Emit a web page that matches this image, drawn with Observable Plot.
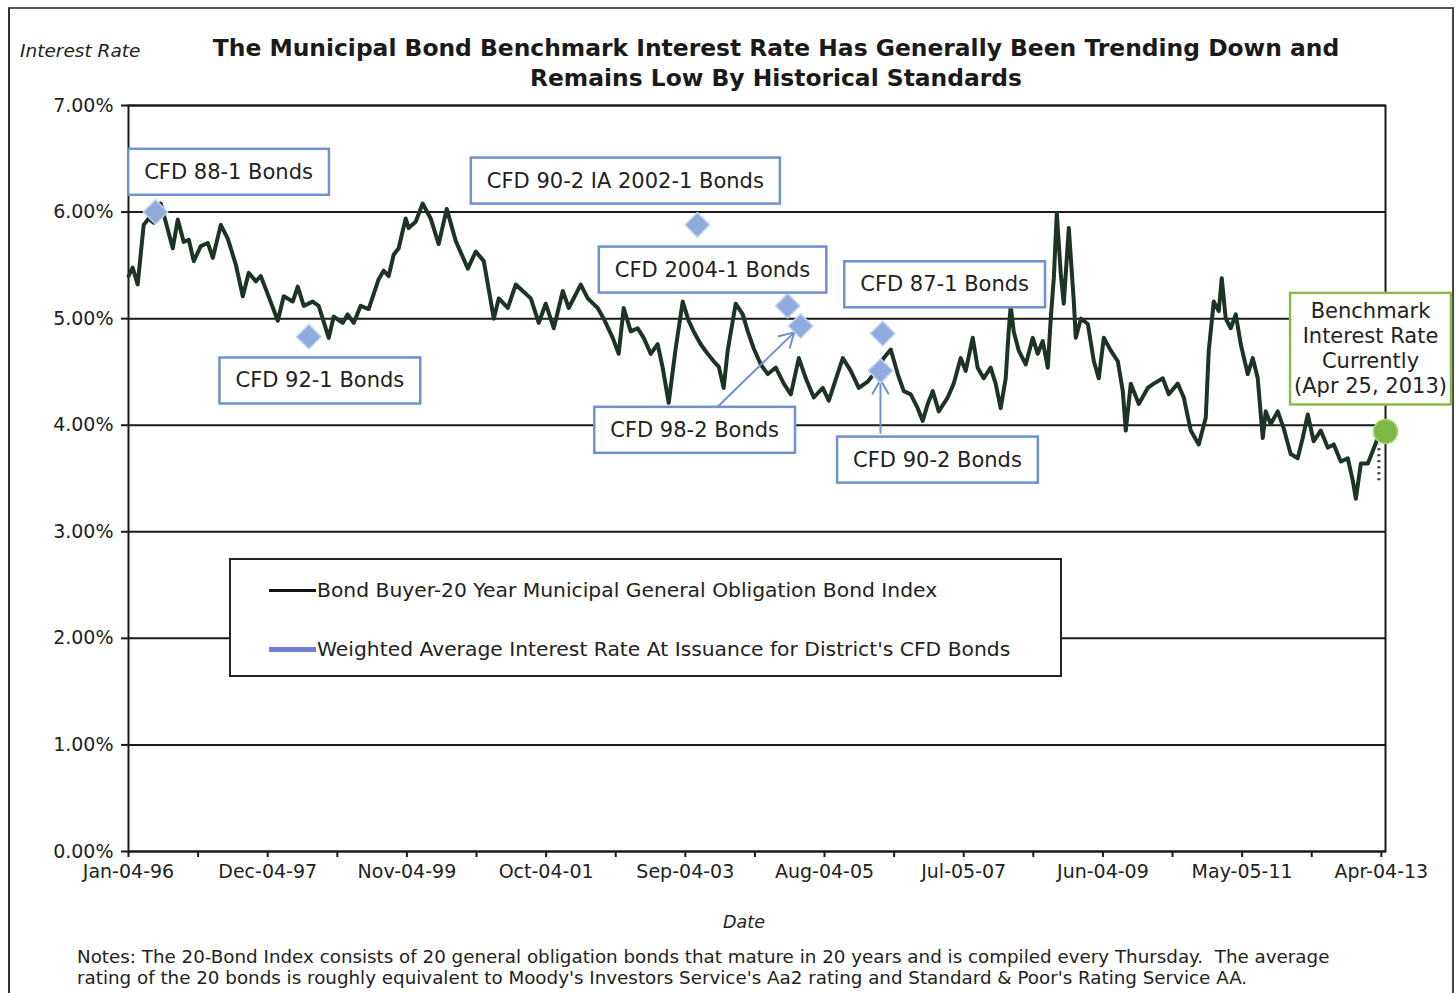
<!DOCTYPE html>
<html><head><meta charset="utf-8">
<script src="https://cdn.jsdelivr.net/npm/d3@7"></script>
<script src="https://cdn.jsdelivr.net/npm/@observablehq/plot@0.6"></script>
<style>
body{margin:0;background:#fff;font-family:"DejaVu Sans",sans-serif;color:#222;}
#page{position:relative;width:1456px;height:993px;overflow:hidden;background:#fff;}
#border{position:absolute;left:8px;top:7px;width:1442px;height:1000px;border-left:2px solid #333;border-top:2px solid #555;border-right:2px solid #444;}
#ylab{position:absolute;left:20px;top:40px;font-size:18.5px;font-style:italic;white-space:nowrap;}
#title{position:absolute;left:176px;width:1200px;top:33px;text-align:center;font-weight:bold;font-size:23.4px;line-height:30px;white-space:nowrap;color:#1a1a1a;}
#chart{position:absolute;left:0;top:95px;}
#legend{position:absolute;left:229px;top:558px;width:829px;height:115px;border:2px solid #222;background:#fff;}
.lg{position:absolute;left:38px;display:flex;align-items:center;font-size:20.3px;white-space:nowrap;}
.sw{width:47px;margin-right:1px;}
#notes{position:absolute;left:77px;top:946px;font-size:18.3px;line-height:21px;white-space:nowrap;}
</style></head><body>
<div id="page">
<div id="border"></div>
<div id="ylab">Interest Rate</div>
<div id="title">The Municipal Bond Benchmark Interest Rate Has Generally Been Trending Down and<br>Remains Low By Historical Standards</div>
<div id="chart"></div>
<div id="legend">
 <div class="lg" style="top:18px"><div class="sw" style="height:3px;background:#111"></div><span id="lg1"></span></div>
 <div class="lg" style="top:77px"><div class="sw" style="height:5px;background:#6f80d4"></div><span id="lg2"></span></div>
</div>
<div id="notes">Notes: The 20-Bond Index consists of 20 general obligation bonds that mature in 20 years and is compiled every Thursday.&nbsp; The average<br>rating of the 20 bonds is roughly equivalent to Moody's Investors Service's Aa2 rating and Standard &amp; Poor's Rating Service AA.</div>
</div>
<script>
// ---- data ----
const seriesNames = ["Bond Buyer-20 Year Municipal General Obligation Bond Index", "Weighted Average Interest Rate At Issuance for District's CFD Bonds"];
const indexYears = [1996.01,1996.065,1996.134,1996.217,1996.285,1996.354,1996.451,1996.492,1996.616,1996.685,
1996.767,1996.836,1996.905,1997.001,1997.098,1997.167,1997.277,1997.373,1997.483,1997.580,
1997.662,1997.759,1997.827,1997.924,1998.062,1998.144,1998.268,1998.337,1998.420,1998.543,
1998.626,1998.764,1998.833,1998.956,1999.025,1999.108,1999.204,1999.314,1999.452,1999.521,
1999.590,1999.659,1999.727,1999.824,1999.865,1999.962,2000.058,2000.168,2000.278,2000.389,
2000.512,2000.678,2000.788,2000.898,2001.036,2001.104,2001.228,2001.338,2001.435,2001.545,
2001.655,2001.751,2001.862,2001.986,2002.068,2002.233,2002.330,2002.467,2002.550,2002.674,
2002.756,2002.825,2002.922,2003.018,2003.101,2003.197,2003.293,2003.362,2003.445,2003.541,
2003.638,2003.720,2003.789,2003.886,2003.982,2004.065,2004.134,2004.202,2004.257,2004.367,
2004.464,2004.533,2004.615,2004.712,2004.808,2004.918,2005.028,2005.125,2005.235,2005.331,
2005.441,2005.565,2005.648,2005.841,2005.951,2006.061,2006.185,2006.268,2006.405,2006.502,
2006.598,2006.681,2006.777,2006.873,2006.942,2007.011,2007.080,2007.163,2007.286,2007.369,
2007.465,2007.534,2007.631,2007.699,2007.782,2007.878,2007.947,2008.016,2008.085,2008.126,
2008.154,2008.195,2008.264,2008.360,2008.457,2008.525,2008.594,2008.663,2008.704,2008.746,
2008.787,2008.842,2008.883,2008.952,2009.021,2009.048,2009.118,2009.214,2009.297,2009.365,
2009.434,2009.531,2009.627,2009.696,2009.737,2009.806,2009.916,2010.040,2010.123,2010.247,
2010.329,2010.453,2010.536,2010.632,2010.742,2010.839,2010.880,2010.949,2011.018,2011.059,
2011.114,2011.183,2011.252,2011.321,2011.417,2011.486,2011.555,2011.624,2011.665,2011.734,
2011.830,2011.913,2012.009,2012.105,2012.174,2012.243,2012.325,2012.422,2012.518,2012.601,
2012.697,2012.793,2012.862,2012.904,2012.973,2013.069,2013.138,2013.207,2013.290];
const indexRates = [5.40,5.48,5.32,5.88,5.94,5.90,6.08,5.98,5.66,5.93,
5.72,5.74,5.54,5.68,5.71,5.57,5.88,5.75,5.51,5.21,
5.43,5.35,5.40,5.23,4.98,5.21,5.16,5.30,5.12,5.16,
5.12,4.82,5.02,4.96,5.04,4.96,5.12,5.09,5.37,5.45,
5.40,5.60,5.66,5.94,5.85,5.91,6.08,5.94,5.70,6.03,
5.73,5.47,5.63,5.54,5.00,5.19,5.10,5.32,5.26,5.19,
4.96,5.14,4.91,5.26,5.10,5.32,5.19,5.10,5.00,4.82,
4.67,5.10,4.88,4.91,4.82,4.67,4.76,4.54,4.21,4.72,
5.16,4.98,4.88,4.76,4.67,4.60,4.55,4.35,4.70,5.14,
5.04,4.88,4.72,4.57,4.48,4.54,4.39,4.29,4.63,4.44,
4.26,4.35,4.23,4.63,4.51,4.35,4.41,4.48,4.63,4.71,
4.48,4.32,4.29,4.16,4.04,4.20,4.32,4.13,4.26,4.39,
4.63,4.51,4.82,4.54,4.44,4.54,4.39,4.16,4.44,4.88,
5.12,4.88,4.70,4.57,4.82,4.67,4.79,4.54,5.00,5.38,
5.99,5.42,5.14,5.85,5.16,4.82,5.00,4.95,4.60,4.44,
4.82,4.70,4.60,4.32,3.95,4.39,4.20,4.35,4.39,4.44,
4.29,4.39,4.26,3.95,3.82,4.07,4.70,5.16,5.07,5.38,
5.00,4.91,5.04,4.76,4.48,4.63,4.44,3.88,4.13,4.01,
4.13,3.97,3.73,3.69,3.88,4.10,3.85,3.95,3.79,3.82,
3.66,3.69,3.48,3.31,3.64,3.64,3.76,3.88,3.93];
const bondNames = ["CFD 88-1 Bonds","CFD 92-1 Bonds","CFD 90-2 IA 2002-1 Bonds","CFD 2004-1 Bonds","CFD 98-2 Bonds","CFD 87-1 Bonds","CFD 90-2 Bonds"];
const bondYears = [1996.38,1998.49,2003.84,2005.08,2005.26,2006.39,2006.36];
const bondRates = [6.00,4.83,5.88,5.12,4.93,4.86,4.51];
const currentDate = "2013-04-25";
const currentRate = 3.94;
const currentLabel = "Benchmark\nInterest Rate\nCurrently\n(Apr 25, 2013)";
const dropLine = [3.48, 3.82];
const xTickDates = ["1996-01-04","1997-12-04","1999-11-04","2001-10-04","2003-09-04","2005-08-04","2007-07-05","2009-06-04","2011-05-05","2013-04-04"];
const xTickLabels = ["Jan-04-96","Dec-04-97","Nov-04-99","Oct-04-01","Sep-04-03","Aug-04-05","Jul-05-07","Jun-04-09","May-05-11","Apr-04-13"];
const yTicks = [0,1,2,3,4,5,6,7];

// ---- build ----
document.getElementById("lg1").textContent = seriesNames[0];
document.getElementById("lg2").textContent = seriesNames[1];
const toDate = y => { const yr = Math.floor(y); const s = Date.UTC(yr,0,1), e = Date.UTC(yr+1,0,1); return new Date(s + (y-yr)*(e-s)); };
const indexData = indexYears.map((y,i)=>({date: toDate(y), rate: indexRates[i]}));
const bonds = bondNames.map((n,i)=>({name:n, date: toDate(bondYears[i]), rate: bondRates[i]}));
const current = [{date: new Date(currentDate), rate: currentRate, label: currentLabel}];
const lastPoint = indexData[indexData.length-1];
const labelDates = xTickDates.map(d=>new Date(d));
const labelMap = new Map(labelDates.map((d,i)=>[+d, xTickLabels[i]]));
const ticks = [];
labelDates.forEach((d,i)=>{ ticks.push(d); if (i < labelDates.length-1) ticks.push(new Date((+d + +labelDates[i+1])/2)); });

// layout of annotation boxes (pixel offsets from each marker)
const labelOffsets = {
 "CFD 88-1 Bonds":[73,-40], "CFD 92-1 Bonds":[11,44], "CFD 90-2 IA 2002-1 Bonds":[-72,-44],
 "CFD 2004-1 Bonds":[-75,-36], "CFD 98-2 Bonds":[-106,104], "CFD 87-1 Bonds":[62,-49], "CFD 90-2 Bonds":[57,89]
};
// arrow tails (at the tops of the two lower boxes), in data space
const arrowTails = {"CFD 98-2 Bonds":[2004.13,4.18], "CFD 90-2 Bonds":[2006.36,3.93]};
const arrows = bonds.filter(b=>arrowTails[b.name]).map(b=>({x1: toDate(arrowTails[b.name][0]), y1: arrowTails[b.name][1], x2: b.date, y2: b.rate}));

const BLUE = "#7090cf";
const chart = Plot.plot({
 width:1456, height:840, marginTop:10, marginLeft:128, marginRight:71, marginBottom:84,
 style:{fontFamily:"DejaVu Sans", fontSize:"19px", color:"#222", overflow:"visible", background:"transparent"},
 x:{type:"utc", domain:[new Date(xTickDates[0]), new Date(currentDate)]},
 y:{domain:[0,7]},
 marks:[
  Plot.ruleY(yTicks, {stroke:"#1a1a1a", strokeWidth:2}),
  Plot.axisY({ticks:yTicks, tickFormat:d=>d.toFixed(2)+"%", tickSize:7, tickPadding:8, label:null, strokeWidth:2, stroke:"#1a1a1a", fontSize:19}),
  Plot.axisX({ticks, tickFormat:d=>labelMap.get(+d) ?? "", tickSize:6, tickPadding:7, label:null, strokeWidth:2, stroke:"#1a1a1a", fontSize:19}),
  Plot.frame({stroke:"#1a1a1a", strokeWidth:2}),
  Plot.text(["Date"], {text:d=>d, frameAnchor:"bottom", dy:76, dx:-13, fontStyle:"italic", fontSize:17.5, fill:"#222"}),
  Plot.line(indexData, {x:"date", y:"rate", stroke:"#1d3324", strokeWidth:4, strokeLinejoin:"round"}),
  Plot.ruleX([lastPoint], {x:"date", y1:dropLine[0], y2:dropLine[1], dx:-5, stroke:"#333", strokeWidth:3, strokeDasharray:"2,4"}),
  Plot.arrow(arrows, {x1:"x1", y1:"y1", x2:"x2", y2:"y2", stroke:BLUE, strokeWidth:2, headLength:12, insetEnd:9}),
  Plot.dot(bonds, {x:"date", y:"rate", symbol:"diamond2", r:11, fill:"#8faadd", stroke:"#c0cfee", strokeWidth:1.5}),
  ...bonds.map(b => Plot.text([b], {x:"date", y:"rate", text:"name", dx:labelOffsets[b.name][0], dy:labelOffsets[b.name][1], fontSize:21, fill:"#222"})),
  Plot.dot(current, {x:"date", y:"rate", r:12, fill:"#7cb843", stroke:"#a6d46f", strokeWidth:1.5}),
  Plot.text(current, {x:"date", y:"rate", text:"label", dx:-15, dy:-84, fontSize:21, lineHeight:1.2, fill:"#222"})
 ]
});
document.getElementById("chart").append(chart);
const NS = "http://www.w3.org/2000/svg";
chart.querySelectorAll("text").forEach(t => {
 const s = t.textContent;
 let px, py, col;
 if (bondNames.includes(s)) { px = 16; py = 11; col = BLUE; }
 else if (s.startsWith("Benchmark")) { px = 4; py = 6; col = "#8dbb4c"; }
 else return;
 const b = t.getBBox();
 const r = document.createElementNS(NS,"rect");
 r.setAttribute("x", b.x-px); r.setAttribute("y", b.y-py);
 r.setAttribute("width", b.width+2*px); r.setAttribute("height", b.height+2*py);
 r.setAttribute("fill","#fff"); r.setAttribute("stroke",col); r.setAttribute("stroke-width", 2.5);
 const tr = t.getAttribute("transform"); if (tr) r.setAttribute("transform", tr);
 t.parentNode.insertBefore(r, t);
});
</script>
</body></html>
